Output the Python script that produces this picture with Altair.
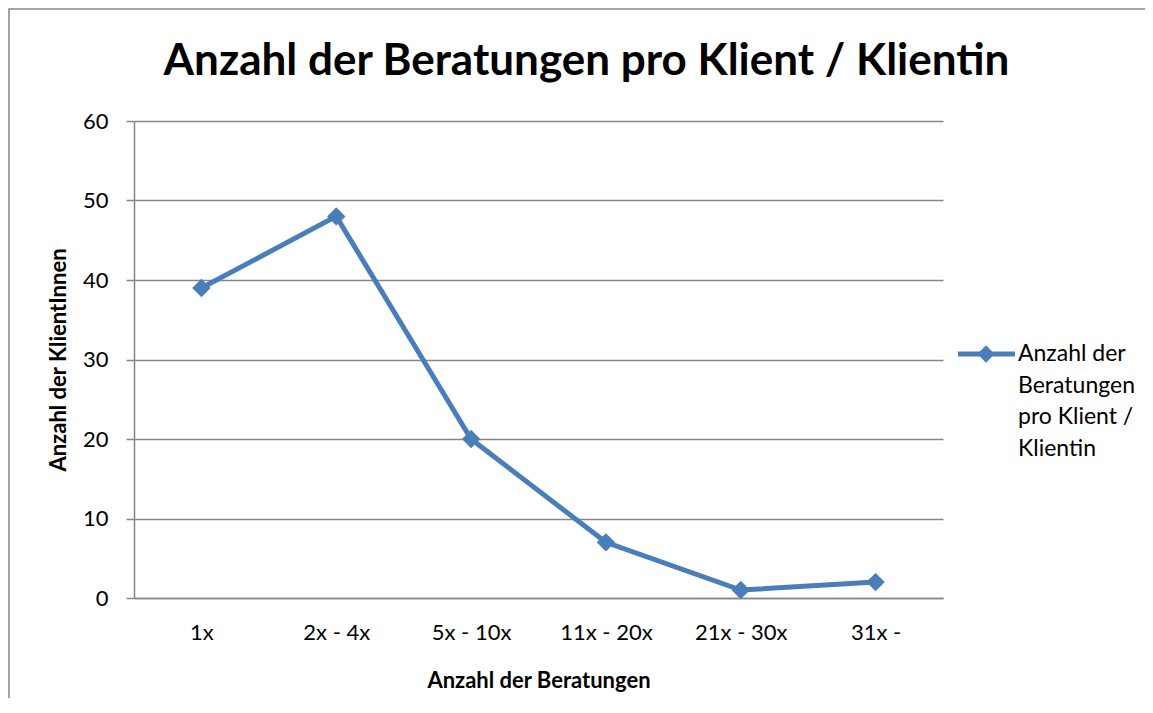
import altair as alt
import pandas as pd

categories = ["1x", "2x - 4x", "5x - 10x", "11x - 20x", "21x - 30x", "31x -"]
values = [39, 48, 20, 7, 1, 2]
series_name = "Anzahl der Beratungen pro Klient / Klientin"
legend_lines = ["Anzahl der", "Beratungen", "pro Klient /", "Klientin"]
y_ticks = [0, 10, 20, 30, 40, 50, 60]

df = pd.DataFrame({"kat": categories, "wert": values, "serie": series_name})

FONT = "Lato"
BLUE = "#4a7ebb"
GRID = "#868686"

x_enc = alt.X(
    "kat:N",
    sort=categories,
    scale=alt.Scale(type="point", padding=0.5),
    axis=alt.Axis(
        title="Anzahl der Beratungen",
        titleFont=FONT, titleFontSize=22, titleFontWeight="bold", titleColor="black",
        titlePadding=27,
        labelFont=FONT, labelFontSize=22, labelColor="black", labelPadding=24,
        labelAngle=0,
        ticks=False, domainColor=GRID, domainWidth=1.5, grid=False,
    ),
)
y_enc = alt.Y(
    "wert:Q",
    scale=alt.Scale(domain=[0, 60], nice=False),
    axis=alt.Axis(
        values=y_ticks,
        title="Anzahl der KlientInnen",
        titleFont=FONT, titleFontSize=22, titleFontWeight="bold", titleColor="black",
        titlePadding=12,
        labelFont=FONT, labelFontSize=22, labelColor="black", labelPadding=18,
        tickSize=8, tickColor=GRID, tickWidth=1.5,
        domainColor=GRID, domainWidth=1.5,
        grid=True, gridColor=GRID, gridWidth=1.5,
    ),
)

line = alt.Chart(df).mark_line(color=BLUE, strokeWidth=5).encode(x=x_enc, y=y_enc)
points = alt.Chart(df).mark_point(
    shape="diamond", filled=True, color=BLUE, size=340, opacity=1
).encode(x=alt.X("kat:N", sort=categories), y="wert:Q")

# Manual legend
leg_df = pd.DataFrame({"serie": [series_name]})
leg_line = alt.Chart(leg_df).mark_rule(color=BLUE, strokeWidth=5).encode(
    x=alt.value(824), x2=alt.value(881), y=alt.value(233)
)
leg_point = alt.Chart(leg_df).mark_point(
    shape="diamond", filled=True, color=BLUE, size=300, opacity=1
).encode(x=alt.value(852), y=alt.value(233))
leg_text = alt.Chart(leg_df).mark_text(
    align="left", baseline="top", font=FONT, fontSize=23, color="black",
    lineHeight=31.5, lineBreak="|"
).encode(x=alt.value(884), y=alt.value(222), text=alt.value("|".join(legend_lines)))

# outer chart border
border = alt.Chart(leg_df).mark_rect(
    fill=None, stroke=GRID, strokeWidth=1.5
).encode(x=alt.value(-125), x2=alt.value(1031), y=alt.value(-112), y2=alt.value(609))

chart = alt.layer(border, line, points, leg_line, leg_point, leg_text).properties(
    width=809,
    height=477,
    padding={"left": 126, "top": 113, "right": 202, "bottom": 100},
    autosize=alt.AutoSizeParams(type="none"),
    title=alt.TitleParams(
        text=series_name, font=FONT, fontSize=44, fontWeight="bold", color="black",
        anchor="middle", offset=-120, dx=48, baseline="bottom",
    ),
).configure_view(stroke=None)

chart.save("out.html", embed_options={"renderer": "svg", "actions": False})
